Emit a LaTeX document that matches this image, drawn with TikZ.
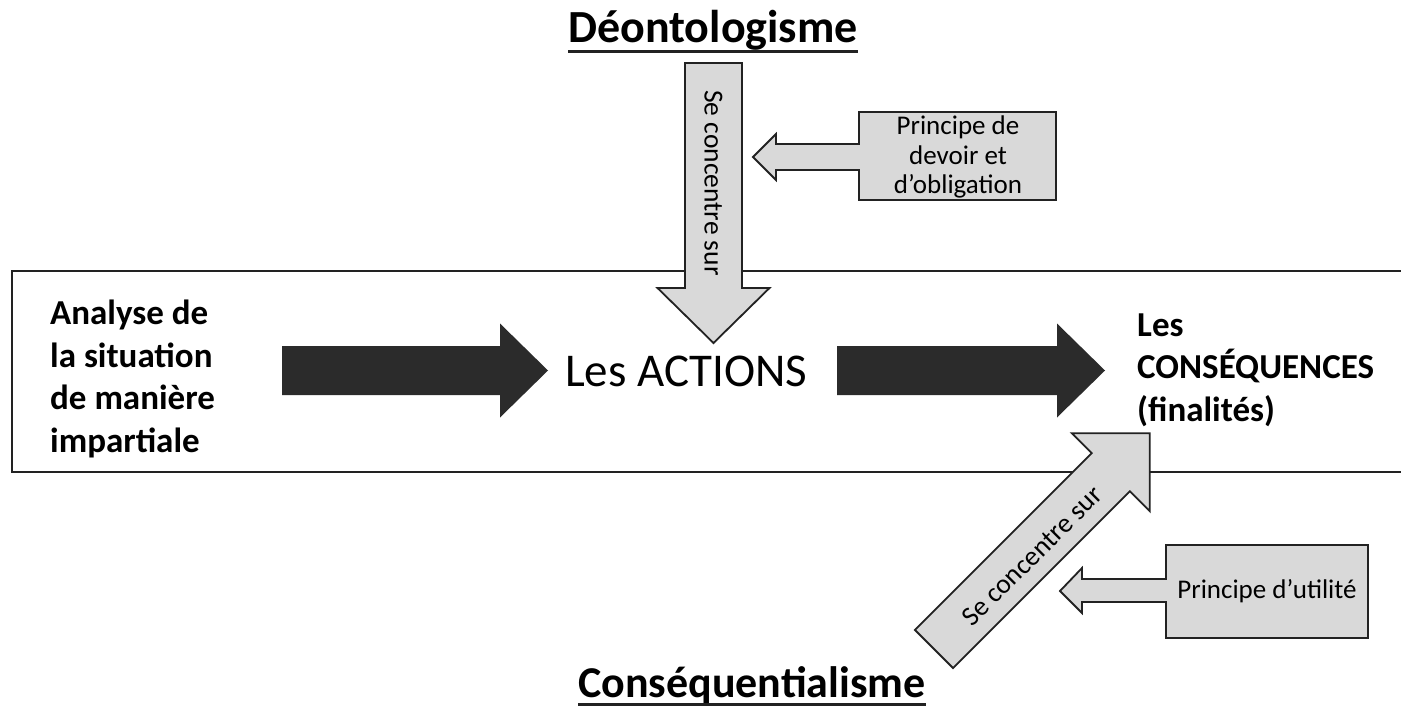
\documentclass[tikz,border=0pt]{standalone}
\usepackage{fontspec}
\setmainfont{Carlito}
\definecolor{boxgray}{RGB}{217,217,217}
\definecolor{ink}{RGB}{34,34,34}
\definecolor{darkarrow}{RGB}{43,43,43}
% font size in px-sized points
\newcommand\pxfont[2]{\fontsize{#1}{#2}\selectfont}
% block arrow: #1 style, #2 tail coordinate, #3 angle, #4 length,
% #5 shaft width, #6 head width, #7 head length
\newcommand\blockarrow[7]{%
  \begin{scope}[shift={(#2)},rotate=#3]
    \path[#1] (0,{-#5/2}) -- ({#4-#7},{-#5/2}) -- ({#4-#7},{-#6/2}) -- (#4,0)
      -- ({#4-#7},{#6/2}) -- ({#4-#7},{#5/2}) -- (0,{#5/2}) -- cycle;
  \end{scope}}
\begin{document}
\begin{tikzpicture}[x=1pt,y=-1pt,
  graybody/.style={fill=boxgray,draw=ink,line width=1.8pt,line join=miter},
  blackbody/.style={fill=darkarrow,draw=none},
  title/.style={inner sep=0pt,font=\bfseries\pxfont{44}{50}},
  bigtext/.style={inner sep=0pt,align=left,font=\bfseries\pxfont{35}{42.5}},
  boxtext/.style={inner sep=0pt,align=center,font=\pxfont{27}{29.5}},
  arrowtext/.style={inner sep=0pt,font=\pxfont{27.5}{30}}]
\useasboundingbox (0,0) rectangle (1401,712);
\fill[white] (0,0) rectangle (1401,712);

% the band that holds the sequence of steps
\draw[ink,line width=2pt] (1401,271) -- (12,271) -- (12,472) -- (1401,472);

% titles
\node[title,anchor=base,font=\bfseries\pxfont{46}{50}] (deon) at (713,42) {Déontologisme};
\draw[ink,line width=3pt] ([yshift=-9pt]deon.base west) -- ([yshift=-9pt]deon.base east);
\node[title,anchor=base] (conseq) at (752,697) {Conséquentialisme};
\draw[ink,line width=3pt] ([yshift=-7pt]conseq.base west) -- ([yshift=-7pt]conseq.base east);

% main sequence
\node[bigtext,anchor=west] (analyse) at (50,379) {Analyse de\\la situation\\de manière\\impartiale};
\node[inner sep=0pt,anchor=west,font=\pxfont{47}{52}] (actions) at (565,371) {Les ACTIONS};
\node[bigtext,anchor=west] (csq) at (1137,370) {Les\\CONSÉQUENCES\\(finalités)};

\coordinate (flowA) at (282,370.5);
\coordinate (flowB) at (837,370.5);
\blockarrow{blackbody}{flowA}{0}{266}{49}{94}{48}
\blockarrow{blackbody}{flowB}{0}{268}{49}{94}{48}

% deontology: focus on the actions
\coordinate (deonTail) at (713.5,63);
\blockarrow{graybody}{deonTail}{-90}{280}{57}{112}{55}
\node[arrowtext,rotate=-90] (deonFocus) at (713.5,183) {Se concentre sur};

% consequentialism: focus on the consequences
\coordinate (conseqTail) at (934,649);
\blockarrow{graybody}{conseqTail}{45}{305}{54}{110}{55}
\node[arrowtext,rotate=45] (conseqFocus) at (1032,556) {Se concentre sur};

% principle callouts
\path[graybody] (859,112) -- (1056,112) -- (1056,200) -- (859,200) -- (859,170)
  -- (776,170) -- (776,180) -- (753,157) -- (776,134) -- (776,144) -- (859,144) -- cycle;
\node[boxtext] (devoir) at (958,157) {Principe de\\devoir et\\d’obligation};

\path[graybody] (1166,545) -- (1368,545) -- (1368,638) -- (1166,638) -- (1166,602)
  -- (1082,602) -- (1082,613) -- (1060,591) -- (1082,568) -- (1082,579) -- (1166,579) -- cycle;
\node[boxtext] (utilite) at (1267,591) {Principe d’utilité};
\end{tikzpicture}
\end{document}
